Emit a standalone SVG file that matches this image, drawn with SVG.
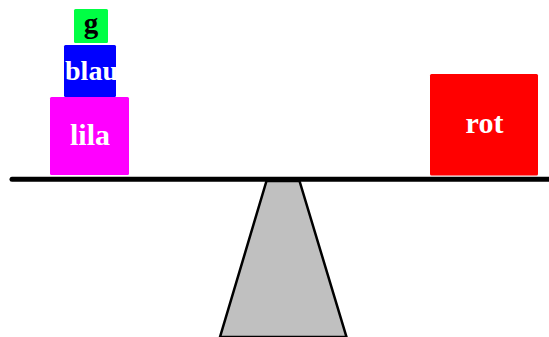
<svg xmlns="http://www.w3.org/2000/svg" width="549" height="337" viewBox="0 0 549 337">
<style>
.t{font-family:"Liberation Serif","Times New Roman",serif;font-weight:bold;font-size:30px;text-anchor:middle;fill:#fff}
.box{rx:1.5}
</style>
<rect width="549" height="337" fill="#fff"/>
<g id="fulcrum"><polygon points="266.5,181 299.5,181 346.5,337 220,337" fill="#c0c0c0" stroke="#000" stroke-width="2.5"/></g>
<g id="beam"><line x1="12" y1="179.3" x2="560" y2="179.3" stroke="#000" stroke-width="5" stroke-linecap="round"/></g>
<g id="lila"><rect class="box" x="50" y="97" width="79" height="78" fill="#ff00ff"/><text class="t" x="90" y="145">lila</text></g>
<g id="blau"><rect class="box" x="64" y="45" width="52" height="52" fill="#0000ff"/><text class="t" x="91.5" y="80" style="font-size:28px">blau</text></g>
<g id="g"><rect class="box" x="74" y="9" width="34" height="34" fill="#00ff44"/><text class="t" x="91" y="32.5" style="fill:#000;font-size:29px">g</text></g>
<g id="rot"><rect class="box" x="430" y="74" width="108" height="101.5" fill="#ff0000"/><text class="t" x="484.5" y="132.5">rot</text></g>
</svg>
